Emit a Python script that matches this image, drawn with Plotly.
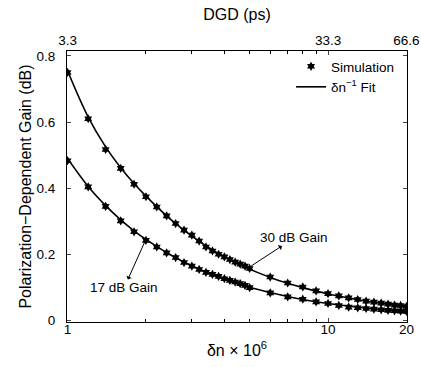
import plotly.graph_objects as go
import numpy as np

# Simulation data
dn = [1.0, 1.2, 1.4, 1.6, 1.8, 2.0, 2.2, 2.4, 2.6, 2.8, 3.0, 3.2, 3.4, 3.6, 3.8, 4.0, 4.2, 4.4, 4.6, 4.8, 5.0,
      6, 7, 8, 9, 10, 11, 12, 13, 14, 15, 16, 17, 18, 19, 20]
sim_30dB = [0.750, 0.610, 0.517, 0.460, 0.412, 0.374, 0.343, 0.316, 0.293, 0.273, 0.258, 0.240, 0.222, 0.210,
            0.200, 0.192, 0.184, 0.176, 0.170, 0.164, 0.157,
            0.131, 0.113, 0.101, 0.089, 0.081, 0.074, 0.068, 0.063, 0.058, 0.055, 0.052, 0.049, 0.046, 0.045, 0.042]
sim_17dB = [0.483, 0.404, 0.345, 0.301, 0.268, 0.242, 0.222, 0.204, 0.190, 0.175, 0.164, 0.154, 0.145, 0.139,
            0.133, 0.126, 0.121, 0.116, 0.111, 0.106, 0.099,
            0.083, 0.071, 0.064, 0.056, 0.051, 0.045, 0.040, 0.038, 0.036, 0.034, 0.032, 0.030, 0.029, 0.028, 0.027]

# Fit curves
fit_dn = [1, 1.2, 1.4, 1.6, 1.8, 2, 2.5, 3, 3.5, 4, 5, 6, 7, 8, 10, 12, 14, 17, 20]
fit_30dB = [0.755, 0.615, 0.525, 0.462, 0.414, 0.376, 0.304, 0.255, 0.219, 0.192, 0.155, 0.130, 0.112, 0.099,
            0.080, 0.068, 0.058, 0.049, 0.042]
fit_17dB = [0.490, 0.405, 0.347, 0.304, 0.271, 0.245, 0.197, 0.165, 0.142, 0.125, 0.100, 0.084, 0.072, 0.063,
            0.051, 0.043, 0.037, 0.031, 0.027]

x_ticks = [1, 10, 20]
x_ticktext = ["1", "10", "20"]
dgd_ticktext = ["3.3", "33.3", "66.6"]
y_ticks = [0, 0.2, 0.4, 0.6, 0.8]
y_ticktext = ["0", "0.2", "0.4", "0.6", "0.8"]

FONT = "Liberation Sans, Arial, sans-serif"
FS = 13.5
fig = go.Figure()

fig.add_trace(go.Scatter(x=fit_dn, y=fit_30dB, mode="lines", line=dict(color="black", width=1.6, shape="spline"),
                         name="δn<sup>−1</sup> Fit", showlegend=False))
fig.add_trace(go.Scatter(x=fit_dn, y=fit_17dB, mode="lines", line=dict(color="black", width=1.6, shape="spline"),
                         name="δn<sup>−1</sup> Fit", showlegend=True, legendrank=2))
fig.add_trace(go.Scatter(x=dn, y=sim_30dB, mode="markers",
                         marker=dict(symbol="hexagram", size=7, color="black"),
                         name="Simulation", showlegend=True, legendrank=1))
fig.add_trace(go.Scatter(x=dn, y=sim_17dB, mode="markers",
                         marker=dict(symbol="hexagram", size=7, color="black"),
                         name="Simulation", showlegend=False))
# dummy trace for top axis
fig.add_trace(go.Scatter(x=[1, 20], y=[None, None], xaxis="x2", mode="lines", showlegend=False, hoverinfo="skip"))

xr = [np.log10(0.995), np.log10(20.1)]
fig.update_layout(
    width=421, height=367,
    margin=dict(l=67, r=14, t=51, b=45),
    paper_bgcolor="white", plot_bgcolor="white",
    font=dict(family=FONT, size=FS, color="black"),
    xaxis=dict(type="log", range=xr, tickvals=x_ticks, ticktext=x_ticktext, automargin=False,
               ticks="inside", ticklen=4, showline=True, linecolor="black", linewidth=1,
               mirror="ticks", showgrid=False, zeroline=False, ticklabelstandoff=-5,
               minor=dict(ticks="inside", ticklen=3, tickcolor="black", showgrid=False, dtick="D1"),
               title=dict(text="δn × 10<sup>6</sup>", standoff=8)),
    xaxis2=dict(type="log", range=xr, overlaying="x", side="top", anchor="y", automargin=False,
                tickvals=x_ticks, ticktext=dgd_ticktext, ticks="", showgrid=False, zeroline=False,
                showline=False, ticklabelstandoff=2, title=dict(text="DGD (ps)", standoff=8)),
    yaxis=dict(range=[-0.005, 0.815], tickvals=y_ticks, ticktext=y_ticktext, automargin=False,
               ticks="inside", ticklen=4, showline=True, linecolor="black", linewidth=1,
               mirror="ticks", showgrid=False, zeroline=False, ticklabelstandoff=8,
               title=dict(text="Polarization−Dependent Gain (dB)", standoff=0)),
    legend=dict(x=0.659, y=1.0, xanchor="left", yanchor="top", bgcolor="rgba(0,0,0,0)",
                font=dict(size=FS), itemwidth=30, tracegroupgap=0),
    showlegend=True,
)

# annotations (log axes: x in log10 units); arrow head at the label side
fig.add_annotation(x=np.log10(5.07), y=0.1645, ax=43, ay=-28, text="30 dB Gain", showarrow=True,
                   arrowside="start", arrowhead=2, arrowsize=1, arrowwidth=1, arrowcolor="black",
                   font=dict(size=FS), borderpad=0)
fig.add_annotation(x=np.log10(2.005), y=0.2476, ax=-22, ay=49, text="17 dB Gain", showarrow=True,
                   arrowside="start", arrowhead=2, arrowsize=1, arrowwidth=1, arrowcolor="black",
                   font=dict(size=FS), borderpad=0)

fig.write_html("out.html", config={"displayModeBar": False},
               post_script="document.body.style.margin='0px';document.body.style.padding='0px';")
